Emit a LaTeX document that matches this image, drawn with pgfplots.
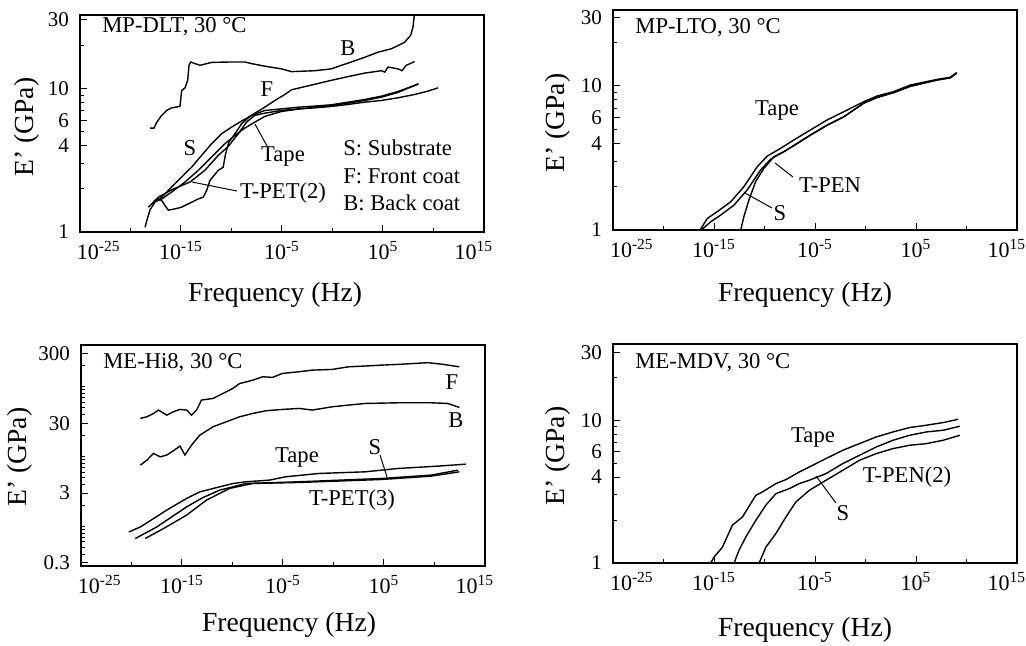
\documentclass[border=0pt]{standalone}
\usepackage{fontspec}
\setmainfont{Liberation Serif}
\usepackage{pgfplots}
\pgfplotsset{compat=1.18}
\newcommand\ann{\fontsize{11.3}{13}\selectfont}
\newcommand\lab{\fontsize{13.8}{16}\selectfont}
\newcommand\xl[1]{10\textsuperscript{#1}}
\pgfplotsset{
  panel/.style={
    scale only axis, width=202pt,
    xmin=1e-25, xmax=1e15,
    xtick={1e-25,1e-15,1e-5,1e5,1e15},
    xticklabels={\makebox[0pt][l]{\hspace*{-1.5pt}\xl{-25}},\xl{-15},\xl{-5},\xl{5},\makebox[0pt][r]{\xl{15}\hspace*{-4.5pt}}},
    minor xtick={1e-20,1e-10,1,1e10},
    tick align=inside, xtick pos=bottom, ytick pos=left,
    major tick length=3.5pt, minor tick length=2pt,
    axis line style={line width=0.85pt},
    every tick/.style={black, line width=0.5pt},
    xticklabel style={font=\fontsize{11}{13}\selectfont, yshift=-1.3pt},
    yticklabel style={font=\fontsize{10.5}{12}\selectfont, xshift=-2pt},
    every axis plot post/.append style={black, line width=0.7pt, mark=none},
    anchor=north west,
  },
  lowE/.style={ymin=1, ytick={1,4,6,10,30}, yticklabels={1,4,6,10,30},
    minor ytick={2,3,5,7,8,9,20}},
}
\begin{document}
\begin{tikzpicture}
\path[use as bounding box] (0,0) rectangle (513pt,-322.5pt);

% ---------------- Panel 1: MP-DLT
\begin{loglogaxis}[panel, lowE, at={(40pt,-7.5pt)}, height=108.5pt, ymax=32.5]
% B
\addplot coordinates {(8.7e-19,5.3) (2.1e-18,5.3) (3.9e-18,5.8) (1.2e-17,6.49) (3.8e-17,7.03) (1.2e-16,7.33) (7.9e-16,7.5) (1.17e-15,9.68) (2.5e-15,10.1) (4.6e-15,11.4) (6.2e-15,14.5) (9.1e-15,15.3) (2.4e-14,14.9) (7.6e-14,14.5) (1.07e-12,15.2) (1.02e-10,15.3) (2.1e-9,15.3) (9.8e-9,14.9) (2.0e-7,14.3) (8.9e-6,13.7) (8.7e-5,13.1) (1.8e-2,13.3) (0.78,13.7) (7.6,14.5) (74,15.3) (1550,16.5) (3.2e4,17.9) (6.6e5,18.9) (1.4e7,21.0) (5.4e7,23.4) (9.3e7,26.7) (1.35e8,34)};
% F
\addplot coordinates {(1.86e-18,1.62) (3.9e-18,1.70) (1.23e-17,1.66) (2.6e-17,1.53) (5.6e-17,1.42) (2.6e-16,1.45) (1.17e-15,1.49) (5.2e-15,1.57) (5.1e-14,1.70) (1.6e-13,1.75) (3.5e-13,1.95) (7.4e-13,2.29) (4.9e-12,2.69) (1.5e-11,2.83) (2.6e-11,3.51) (5.5e-11,4.23) (2.2e-10,4.84) (1e-9,5.68) (6.6e-9,6.39) (3.0e-8,6.84) (2.0e-7,7.41) (1.95e-6,8.25) (1.9e-5,9.08) (8.7e-5,9.79) (1.8e-3,10.3) (0.78,11.4) (35,12.1) (1550,12.8) (6.9e4,13.3) (1.5e5,13.0) (3.1e5,14.1) (3.0e6,13.7) (7.6e6,13.3) (2.0e7,14.5) (1.35e8,15.4)};
% S
\addplot coordinates {(1.26e-18,1.57) (1.23e-17,1.75) (1.2e-16,2.06) (1.17e-15,2.42) (1.12e-14,2.83) (1.1e-13,3.42) (1.07e-12,4.12) (1.05e-11,4.84) (1.02e-10,5.38) (1e-9,5.93) (9.8e-9,6.49) (2e-7,7.03) (8.9e-6,7.21) (4.0e-4,7.41) (1.8e-2,7.54) (0.78,7.70) (35,8.03) (1550,8.38) (6.9e4,8.84) (3.0e6,9.53) (2.9e8,10.7)};
% Tape
\addplot coordinates {(2.75e-19,1.08) (4.7e-19,1.24) (8.7e-19,1.43) (2.7e-18,1.62) (1.23e-17,1.70) (1.2e-16,1.90) (2.5e-15,2.23) (5.1e-14,2.69) (1.07e-12,3.33) (2.2e-11,4.12) (2.2e-10,4.71) (2.1e-9,5.30) (1.4e-8,5.74) (2e-7,6.39) (8.9e-6,6.92) (4.0e-4,7.18) (1.8e-2,7.41) (0.78,7.62) (35,7.91) (1550,8.25) (6.9e4,8.70) (3.0e6,9.38) (3.4e8,10.8)};
% T-PET(2)
\addplot coordinates {(5.9e-19,1.49) (2.7e-18,1.66) (5.8e-18,1.75) (1.2e-16,1.97) (7.8e-15,2.23) (2.3e-13,2.69) (4.9e-12,3.42) (4.8e-11,3.95) (4.7e-10,4.84) (3.1e-9,5.83) (2.0e-8,6.49) (2e-7,6.73) (8.9e-6,7.03) (4.0e-4,7.21) (1.8e-2,7.33) (0.78,7.5) (35,7.74) (1550,8.03) (6.9e4,8.25) (3.0e6,8.61) (1.35e8,9.08) (2.8e9,9.58) (2.8e10,10.1)};
\end{loglogaxis}

% ---------------- Panel 2: MP-LTO
\begin{loglogaxis}[panel, lowE, at={(306.5pt,-5pt)}, height=110pt, ymax=33.7]
% Tape
\addplot coordinates {(4.2e-17,1.0) (2.2e-16,1.205) (2.1e-15,1.34) (4.5e-14,1.57) (9.1e-13,2.0) (1.9e-11,2.75) (1.86e-10,3.26) (3.9e-9,3.69) (8.1e-8,4.22) (3.5e-6,4.95) (1.58e-4,5.81) (7.1e-3,6.63) (0.66,7.78) (13.8,8.52) (617,9.14) (2.7e4,10.16) (1.17e7,11.1) (2.5e8,11.5) (1.1e9,12.4)};
% T-PEN
\addplot coordinates {(5.6e-17,1.0) (4.7e-16,1.14) (4.6e-15,1.27) (9.5e-14,1.49) (1.95e-12,1.90) (4.1e-11,2.61) (4.0e-10,3.10) (8.3e-9,3.50) (1.7e-7,4.00) (3.5e-6,4.57) (1.58e-4,5.36) (7.1e-3,6.12) (0.66,7.6) (13.8,8.34) (617,9.0) (2.7e4,9.95) (1.17e7,11.0) (2.5e8,11.4) (1.1e9,12.3)};
% S
\addplot coordinates {(4.4e-13,1.0) (9.1e-13,1.24) (2.9e-12,1.62) (1.32e-11,2.17) (8.7e-11,2.68) (8.5e-10,3.23) (8.3e-9,3.50) (1.7e-7,3.98) (3.5e-6,4.55) (1.58e-4,5.33) (7.1e-3,6.1) (0.66,7.6) (13.8,8.3) (617,9.0) (2.7e4,9.95) (1.17e7,11.0) (2.5e8,11.4) (1.1e9,12.3)};
\end{loglogaxis}

% ---------------- Panel 3: ME-Hi8
\begin{loglogaxis}[panel, at={(40.5pt,-172.5pt)}, height=110.5pt, ymin=0.27, ymax=396,
  ytick={0.3,3,30,300}, yticklabels={0.3,3,30,300},
  minor ytick={0.4,0.5,0.6,0.7,0.8,0.9,1,2,4,5,6,7,8,9,10,20,40,50,60,70,80,90,100,200}]
% F
\addplot coordinates {(7.6e-20,35.2) (3.4e-19,37.1) (1.5e-18,41.4) (4.7e-18,46.3) (3.1e-17,39.2) (1.4e-16,43.8) (6.3e-16,47.3) (2.9e-15,46.3) (8.9e-15,39.2) (2.75e-14,46.3) (8.5e-14,64.4) (1.2e-12,68.0) (5.4e-12,75.9) (2.45e-11,84.7) (1.1e-10,94.6) (5.0e-10,111) (1e-8,124) (9.8e-8,139) (9.3e-7,136) (8.9e-6,155) (3.9e-4,164) (7.9e-3,173) (0.72,177) (31.6,193) (1350,198) (5.9e4,204) (2.6e6,209) (2.2e9,221) (4.6e10,211) (2.9e12,193)};
% B
\addplot coordinates {(7.6e-20,7.54) (3.4e-19,8.89) (1.5e-18,11.1) (6.9e-18,9.9) (3.1e-17,10.5) (1.4e-16,12.1) (6.3e-16,14.1) (1.95e-15,10.5) (8.9e-15,14.6) (5.9e-14,20.3) (1.2e-12,26.7) (2.45e-11,31.5) (5e-10,37.1) (1e-8,41.4) (2.0e-7,45.3) (8.9e-6,47.3) (3.9e-4,48.9) (7.9e-3,46.3) (0.72,51.6) (31.6,54.6) (1350,57.6) (2.6e6,58.9) (4.8e9,58.9) (2.1e11,57.6) (2.9e12,50.5)};
% Tape
\addplot coordinates {(5.4e-21,0.83) (7.6e-20,0.98) (1.5e-18,1.29) (3.1e-17,1.71) (2.9e-15,2.51) (5.9e-14,3.12) (5.4e-12,3.68) (1.1e-10,4.11) (2.2e-9,4.35) (4.4e-7,4.59) (1.9e-5,5.13) (3.5e-2,5.72) (1350,6.04) (2.6e6,6.75) (2.2e10,7.29) (1.3e13,7.78)};
% S
\addplot coordinates {(2.4e-20,0.67) (3.2e-18,0.98) (9.8e-17,1.37) (2.9e-15,1.90) (1.23e-13,2.59) (5.4e-12,3.30) (2.2e-9,4.11) (3.9e-4,4.35) (5.9e4,4.85) (4.8e9,5.42) (2.0e12,6.38)};
% T-PET(3)
\addplot coordinates {(2.3e-19,0.67) (1.5e-17,0.93) (2.9e-15,1.45) (2.6e-13,2.37) (5.1e-11,3.49) (1e-8,4.11) (3.9e-4,4.25) (5.9e4,4.69) (4.8e9,5.24) (2.9e12,6.04)};
\end{loglogaxis}

% ---------------- Panel 4: ME-MDV
\begin{loglogaxis}[panel, lowE, at={(306.5pt,-172pt)}, height=109.5pt, ymax=34.2]
% Tape
\addplot coordinates {(4.7e-16,1) (1e-15,1.10) (6.8e-15,1.29) (6.6e-14,1.84) (6.5e-13,2.10) (1.38e-11,2.98) (6.3e-11,3.15) (1.35e-9,3.60) (1.32e-8,3.84) (2.75e-7,4.34) (2.75e-6,4.71) (1.23e-4,5.39) (5.6e-3,6.16) (0.25,6.86) (11.5,7.64) (525,8.28) (2.3e4,8.89) (1.07e6,9.23) (4.8e7,9.63) (1.5e9,10.16)};
% S
\addplot coordinates {(9.8e-14,1) (3.0e-13,1.23) (1.4e-12,1.52) (1.38e-11,1.99) (1.35e-10,2.54) (1.35e-9,3.06) (2.8e-8,3.32) (2.75e-7,3.60) (2.75e-6,3.80) (1.23e-4,4.23) (5.6e-3,4.97) (0.25,5.68) (11.5,6.50) (525,7.24) (2.3e4,7.85) (1.07e6,8.28) (4.8e7,8.51) (2.2e9,9.08)};
% T-PEN(2)
\addplot coordinates {(2.95e-11,1) (1.35e-10,1.29) (1.35e-9,1.61) (1.32e-8,2.10) (1.29e-7,2.68) (2.75e-6,3.23) (1.23e-4,3.80) (5.6e-3,4.46) (0.25,5.24) (11.5,5.84) (525,6.33) (2.3e4,6.68) (1.07e6,6.86) (4.8e7,7.24) (2.2e9,7.85)};
\end{loglogaxis}

% ---------------- Text (pixel coordinates)
\begin{scope}[x=0.5pt,y=-0.5pt, every node/.style={inner sep=0pt}]
% panel 1
\node[anchor=west] at (102,27) {\ann MP-DLT, 30 °C};
\node at (348,48) {\ann B};
\node at (267,89) {\ann F};
\node at (190,148) {\ann S};
\node at (283,156) {\ann Tape};
\draw[line width=0.5pt] (267,146) -- (255,124);
\node at (283,193) {\ann T-PET(2)};
\draw[line width=0.5pt] (237,191) -- (192,182);
\node[anchor=west] at (343,148) {\ann S: Substrate};
\node[anchor=west] at (343,176) {\ann F: Front coat};
\node[anchor=west] at (343,203) {\ann B: Back coat};
\node at (275,295) {\lab Frequency (Hz)};
\node[rotate=90] at (27,127) {\lab E’ (GPa)};
% panel 2
\node[anchor=west] at (635,28) {\ann MP-LTO, 30 °C};
\node at (777,110) {\ann Tape};
\node at (830,185) {\ann T-PEN};
\draw[line width=0.5pt] (793,177) -- (775,163);
\node at (780,213) {\ann S};
\draw[line width=0.5pt] (772,208) -- (745,193);
\node at (805,295) {\lab Frequency (Hz)};
\node[rotate=90] at (558,123) {\lab E’ (GPa)};
% panel 3
\node[anchor=west] at (103,363) {\ann ME-Hi8, 30 °C};
\node at (452,382) {\ann F};
\node at (456,420) {\ann B};
\node at (297,457) {\ann Tape};
\node at (375,447) {\ann S};
\draw[line width=0.5pt] (380,455) -- (387,477);
\node at (352,500) {\ann T-PET(3)};
\node at (289,625) {\lab Frequency (Hz)};
\node[rotate=90] at (20,457) {\lab E’ (GPa)};
% panel 4
\node[anchor=west] at (635,363) {\ann ME-MDV, 30 °C};
\node at (813,437) {\ann Tape};
\node at (907,477) {\ann T-PEN(2)};
\node at (843,513) {\ann S};
\draw[line width=0.5pt] (836,503) -- (816,476);
\node at (805,630) {\lab Frequency (Hz)};
\node[rotate=90] at (558,456) {\lab E’ (GPa)};
\end{scope}
\end{tikzpicture}
\end{document}
